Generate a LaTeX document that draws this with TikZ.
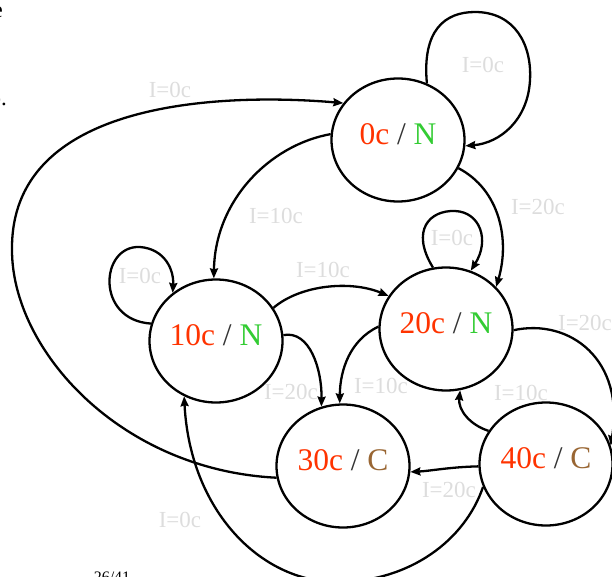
\documentclass[tikz,border=0pt]{standalone}
\usepackage{fontspec}
\setmainfont{Liberation Serif}
\usetikzlibrary{shapes.geometric,arrows.meta}
\definecolor{numred}{HTML}{FF3300}
\definecolor{ngreen}{HTML}{33CC33}
\definecolor{cbrown}{HTML}{996633}
\definecolor{slashc}{HTML}{333333}
\definecolor{lblgray}{HTML}{DDDDDD}
\tikzset{
  st/.style={ellipse, draw, line width=2.3pt, minimum width=133pt, minimum height=123pt, inner sep=0pt, text depth=11pt, font=\fontsize{31.5}{31.5}\selectfont},
  tr/.style={line width=2.3pt, -{Stealth[length=10pt,width=8pt,inset=1pt]}},
  lb/.style={text=lblgray, inner sep=0pt, font=\fontsize{23}{23}\selectfont},
  frag/.style={inner sep=0pt, font=\fontsize{23}{23}\selectfont}
}
\begin{document}
\begin{tikzpicture}[x=1pt,y=-1pt]
\useasboundingbox (0,0) rectangle (612,577);
% states
\node[st] (s0)  at (398,140) {\textcolor{numred}{0c} \textcolor{slashc}{/} \textcolor{ngreen}{N}};
\node[st] (s10) at (216,341) {\textcolor{numred}{10c} \textcolor{slashc}{/} \textcolor{ngreen}{N}};
\node[st] (s20) at (446,329) {\textcolor{numred}{20c} \textcolor{slashc}{/} \textcolor{ngreen}{N}};
\node[st] (s30) at (343,466) {\textcolor{numred}{30c} \textcolor{slashc}{/} \textcolor{cbrown}{C}};
\node[st] (s40) at (546,464) {\textcolor{numred}{40c} \textcolor{slashc}{/} \textcolor{cbrown}{C}};
% transitions
\draw[tr] (s0.63) .. controls (422,30) and (445,12) .. (475,12) .. controls (515,12) and (532,45) .. (530,80) .. controls (528,120) and (500,143) .. (s0.-5);
\draw[tr] (s0.175) .. controls (270,145) and (215,200) .. (s10.92);
\draw[tr] (s0.-25) .. controls (500,190) and (510,240) .. (s20.40);
\draw[tr] (s10.165) .. controls (95,320) and (100,245) .. (140,247) .. controls (165,249) and (174,270) .. (s10.132);
\draw[tr] (s20.102) .. controls (410,230) and (430,210) .. (455,211) .. controls (480,212) and (490,240) .. (s20.67);
\draw[tr] (s10.30) .. controls (300,285) and (350,280) .. (s20.150);
\draw[tr] (s10.5) .. controls (310,330) and (322,370) .. (s30.110);
\draw[tr] (s20.178) .. controls (350,340) and (340,370) .. (s30.93);
\draw[tr] (s20.-1) .. controls (570,318) and (625,360) .. (s40.16);
\draw[tr] (s40.150) .. controls (470,425) and (458,410) .. (s20.-77);
\draw[tr] (s40.182) .. controls (450,467) and (430,471) .. (s30.-5);
\draw[tr] (s40.200) .. controls (465,540) and (410,582) .. (337,582) .. controls (260,582) and (190,510) .. (s10.-120);
\draw[tr] (s30.190) .. controls (120,470) and (12,350) .. (12,250) .. controls (10,90) and (250,95) .. (s0.146);
% labels
\node[lb] (l1)  at (483,65)  {I=0c};
\node[lb] (l2)  at (276,216) {I=10c};
\node[lb] (l3)  at (538,207) {I=20c};
\node[lb] (l4)  at (140,276) {I=0c};
\node[lb] (l5)  at (452,238) {I=0c};
\node[lb] (l6)  at (323,270) {I=10c};
\node[lb] (l7)  at (291,392) {I=20c};
\node[lb] (l8)  at (381,386) {I=10c};
\node[lb] (l9)  at (585,323) {I=20c};
\node[lb] (l10) at (521,393) {I=10c};
\node[lb] (l11) at (449,490) {I=20c};
\node[lb] (l12) at (180,520) {I=0c};
\node[lb] (l13) at (170,90)  {I=0c};
% fragments
\node[frag, anchor=base east] (f1) at (3,18) {e};
\node[frag, anchor=base east] (f2) at (7,106) {o.};
\node[inner sep=0pt, anchor=base, font=\fontsize{16}{16}\selectfont] (pg) at (112,582) {26/41};
\end{tikzpicture}
\end{document}
